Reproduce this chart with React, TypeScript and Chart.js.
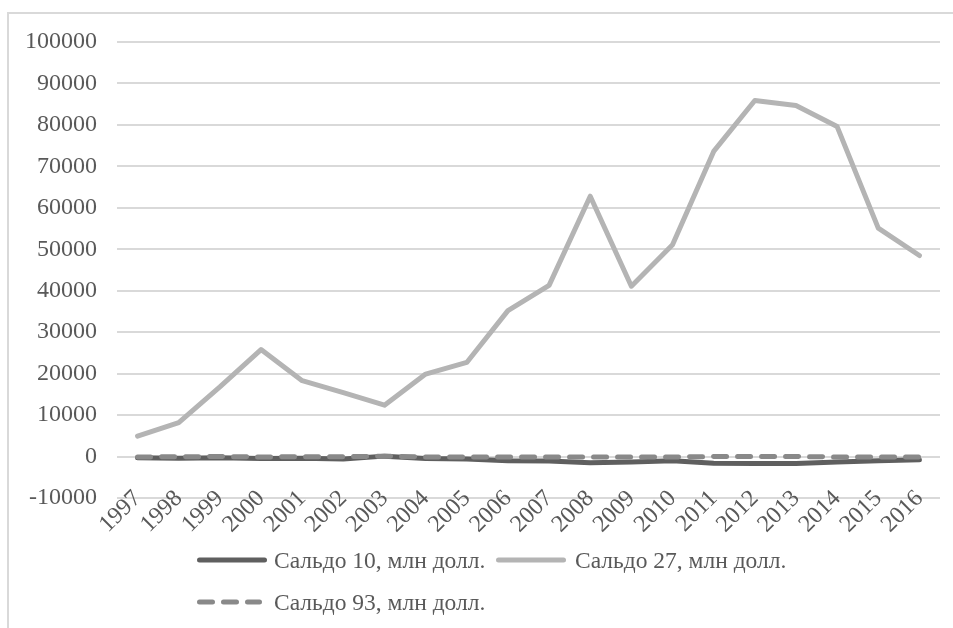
import React, { useEffect, useRef } from 'react';
import { Chart, registerables } from 'chart.js';

Chart.register(...registerables);

// ---- data ----
const YEARS = ['1997', '1998', '1999', '2000', '2001', '2002', '2003', '2004', '2005', '2006',
  '2007', '2008', '2009', '2010', '2011', '2012', '2013', '2014', '2015', '2016'];

const SALDO_10 = [-300, -400, -300, -500, -400, -600, 100, -500, -600, -1000,
  -1100, -1500, -1300, -1000, -1600, -1700, -1700, -1300, -1000, -800];

const SALDO_27 = [4900, 8200, 16800, 25800, 18300, 15400, 12400, 19900, 22700, 35200,
  41300, 62800, 41100, 51100, 73600, 85900, 84700, 79600, 55100, 48500];

const SALDO_93 = [-100, -50, 0, -100, -50, -50, 100, -100, -100, -100,
  -100, -100, -100, -100, 0, 0, 0, -100, -100, -100];

const SERIES_NAMES = ['Сальдо 10, млн долл.', 'Сальдо 27, млн долл.', 'Сальдо 93, млн долл.'];

const Y_MIN = -10000;
const Y_MAX = 100000;
const Y_STEP = 10000;

// ---- styles ----
const FONT_FAMILY = '"Liberation Serif", "Times New Roman", serif';
const TICK_FONT_SIZE = 24;
const LEGEND_FONT_SIZE = 23.5;
const TEXT_COLOR = '#595959';
const GRID_COLOR = '#d9d9d9';
const COLORS = ['#5f5f5f', '#b4b4b4', '#898989'];
const LINE_WIDTH = 5;

const W = 953;
const H = 628;

function LegendLine({ x1, x2, y, color, dash }: { x1: number; x2: number; y: number; color: string; dash?: string }) {
  return (
    <svg style={{ position: 'absolute', left: 0, top: 0, overflow: 'visible' }} width={W} height={H}>
      <line x1={x1 + LINE_WIDTH / 2} x2={x2 - LINE_WIDTH / 2} y1={y} y2={y} stroke={color}
        strokeWidth={LINE_WIDTH} strokeLinecap="round" strokeDasharray={dash} />
    </svg>
  );
}

function LegendText({ x, top, text }: { x: number; top: number; text: string }) {
  return (
    <div style={{
      position: 'absolute', left: x, top, height: 28, lineHeight: '28px', whiteSpace: 'nowrap',
      fontFamily: FONT_FAMILY, fontSize: LEGEND_FONT_SIZE, color: TEXT_COLOR,
    }}>{text}</div>
  );
}

export default function App() {
  const canvasRef = useRef<HTMLCanvasElement | null>(null);

  useEffect(() => {
    const canvas = canvasRef.current;
    if (!canvas) return;
    const font = { family: FONT_FAMILY, size: TICK_FONT_SIZE };
    const chart = new Chart(canvas, {
      type: 'line',
      data: {
        labels: YEARS,
        datasets: [
          {
            label: SERIES_NAMES[0], data: SALDO_10, borderColor: COLORS[0], backgroundColor: COLORS[0],
            borderWidth: LINE_WIDTH, pointRadius: 0, tension: 0, fill: false,
            borderJoinStyle: 'round', borderCapStyle: 'round', order: 3,
          },
          {
            label: SERIES_NAMES[1], data: SALDO_27, borderColor: COLORS[1], backgroundColor: COLORS[1],
            borderWidth: LINE_WIDTH, pointRadius: 0, tension: 0, fill: false,
            borderJoinStyle: 'round', borderCapStyle: 'round', order: 2,
          },
          {
            label: SERIES_NAMES[2], data: SALDO_93, borderColor: COLORS[2], backgroundColor: COLORS[2],
            borderWidth: LINE_WIDTH, pointRadius: 0, tension: 0, fill: false,
            borderDash: [13, 11], borderJoinStyle: 'round', borderCapStyle: 'round', order: 1,
          },
        ],
      },
      options: {
        responsive: false,
        maintainAspectRatio: false,
        animation: false,
        devicePixelRatio: 1,
        layout: { padding: { left: 0, right: 13, top: 42, bottom: 130 } },
        plugins: { legend: { display: false }, tooltip: { enabled: false } },
        scales: {
          x: {
            type: 'category',
            position: { y: 0 } as any,
            offset: true,
            grid: { display: false, drawTicks: false },
            border: { display: false },
            ticks: {
              autoSkip: false, minRotation: 45, maxRotation: 45, padding: 28,
              color: TEXT_COLOR, font,
            },
            afterFit: (scale: any) => {
              scale.paddingLeft = 0; scale.paddingRight = 0;
              scale.paddingTop = 0; scale.paddingBottom = 0;
            },
          },
          y: {
            type: 'linear',
            min: Y_MIN,
            max: Y_MAX,
            grid: { color: GRID_COLOR, lineWidth: 2, drawTicks: false },
            border: { display: false },
            ticks: {
              stepSize: Y_STEP, padding: 20, color: TEXT_COLOR, font,
              callback: (v: any) => String(v),
            },
            afterFit: (scale: any) => { scale.width = 117; },
          },
        },
      },
    });
    return () => chart.destroy();
  }, []);

  return (
    <div style={{ position: 'fixed', left: 0, top: 0, width: W, height: H, background: '#fff', overflow: 'hidden' }}>
      <div style={{
        position: 'absolute', left: 7, top: 12, width: W + 20, height: H + 20,
        borderTop: `2px solid ${GRID_COLOR}`, borderLeft: `2px solid ${GRID_COLOR}`, boxSizing: 'border-box',
      }} />
      <canvas ref={canvasRef} width={W} height={H}
        style={{ position: 'absolute', left: 0, top: 0, width: W, height: H }} />
      <LegendLine x1={197} x2={267} y={560} color={COLORS[0]} />
      <LegendText x={274} top={546} text={SERIES_NAMES[0]} />
      <LegendLine x1={496} x2={566} y={560} color={COLORS[1]} />
      <LegendText x={575} top={546} text={SERIES_NAMES[1]} />
      <LegendLine x1={197} x2={262} y={602} color={COLORS[2]} dash="13 11" />
      <LegendText x={274} top={588} text={SERIES_NAMES[2]} />
    </div>
  );
}
